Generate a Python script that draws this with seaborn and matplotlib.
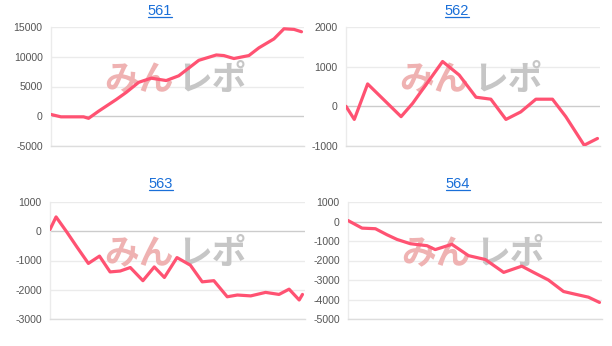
import matplotlib
matplotlib.use("Agg")
import matplotlib.pyplot as plt
import seaborn as sns
import pandas as pd
from matplotlib.lines import Line2D

# ---- data ----
titles = ["561", "562", "563", "564"]

x561 = [0, 4, 13, 15, 19, 26, 30, 35, 40, 46, 51, 55, 59, 66, 69, 73, 79, 83, 89, 93, 97, 100]
y561 = [300, -100, -100, -350, 850, 2800, 4000, 5700, 6400, 6000, 6800, 8100, 9400, 10300,
        10200, 9700, 10200, 11500, 13000, 14700, 14600, 14200]

x562 = [0, 3.3, 8.6, 21.9, 26.5, 38.4, 45, 51.7, 57.6, 63.6, 69.5, 75.5, 82.1, 87.4, 94.7, 100]
y562 = [0, -330, 565, -260, 75, 1130, 790, 230, 180, -330, -140, 180, 180, -260, -980, -810]

x563 = [0, 2.4, 6.6, 10.6, 15.2, 19.6, 23.8, 27.8, 31.8, 36.8, 41.3, 45.3, 50.3, 55.6, 60.3,
        64.9, 70.2, 74.2, 79.5, 85.4, 90.7, 94.7, 98.7, 100]
y563 = [60, 490, -20, -530, -1100, -850, -1390, -1360, -1240, -1690, -1220, -1580, -900, -1160,
        -1730, -1690, -2240, -2180, -2210, -2090, -2160, -1980, -2350, -2160]

x564 = [0, 5.6, 10.9, 15.5, 19.5, 24.8, 31.4, 34.7, 41.3, 47.9, 54.6, 61.9, 69.1, 73.8, 79.7,
        85.7, 89.7, 95.6, 100]
y564 = [50, -340, -370, -680, -920, -1140, -1240, -1440, -1170, -1750, -1950, -2610, -2290,
        -2610, -3000, -3590, -3710, -3880, -4150]

yticks = [
    [-5000, 0, 5000, 10000, 15000],
    [-1000, 0, 1000, 2000],
    [-3000, -2000, -1000, 0, 1000],
    [-5000, -4000, -3000, -2000, -1000, 0, 1000],
]

series = [(x561, y561), (x562, y562), (x563, y563), (x564, y564)]

# ---- layout (pixels) ----
W, H = 612, 346
boxes = [(51, 304, 27, 146), (346, 600, 27, 146), (50, 305, 202, 319), (348, 602, 202, 319)]
title_pos = [(160, 11), (457, 11), (161, 184), (458, 184)]

sns.set_theme(style="white")
plt.rcParams['font.family'] = ['Liberation Sans', 'DejaVu Sans']

fig = plt.figure(figsize=(W / 100, H / 100), dpi=100)
fig.patch.set_facecolor("white")

line_color = "#ff5272"
title_objs = []
for i, ((l, r, t, b), (xs, ys)) in enumerate(zip(boxes, series)):
    ax = fig.add_axes([l / W, 1 - b / H, (r - l) / W, (b - t) / H])
    df = pd.DataFrame({"x": xs, "y": ys})
    sns.lineplot(data=df, x="x", y="y", ax=ax, color=line_color, linewidth=2.3,
                 zorder=5, solid_capstyle="round", solid_joinstyle="round")
    ax.set_xlim(0, 101)
    ax.set_ylim(yticks[i][0], yticks[i][-1])
    ax.set_yticks(yticks[i])
    ax.set_yticklabels([str(v) for v in yticks[i]])
    ax.set_xticks([])
    ax.set_xlabel("")
    ax.set_ylabel("")
    ax.tick_params(axis="y", length=0, pad=6, labelsize=7.6, labelcolor="#555555")
    for v in yticks[i]:
        ax.axhline(v, color="#cccccc" if v == 0 else "#ebebeb", linewidth=1.0, zorder=1)
    for s in ["top", "right"]:
        ax.spines[s].set_visible(False)
    ax.spines["left"].set_color("#ebebeb")
    ax.spines["bottom"].set_color("#dddddd")
    ax.spines["left"].set_linewidth(1.0)
    ax.spines["bottom"].set_linewidth(1.0)
    # watermark
    ax.text(0.485, 0.56, "みん", transform=ax.transAxes, ha="right", va="center",
            fontsize=25, fontweight="bold", color="#efb2b2",
            family=["Noto Sans CJK JP", "DejaVu Sans"], zorder=2)
    ax.text(0.50, 0.56, "レポ", transform=ax.transAxes, ha="left", va="center",
            fontsize=25, fontweight="bold", color="#c6c6c6",
            family=["Noto Sans CJK JP", "DejaVu Sans"], zorder=2)
    tx, ty = title_pos[i]
    t_obj = fig.text(tx / W, 1 - ty / H, titles[i], ha="center", va="center",
                     fontsize=10.5, color="#1a6fd8")
    title_objs.append(t_obj)

fig.canvas.draw()
renderer = fig.canvas.get_renderer()
for t_obj in title_objs:
    bb = t_obj.get_window_extent(renderer)
    yline = bb.y0 + 1.0
    fig.add_artist(Line2D([bb.x0 / W, bb.x1 / W], [yline / H, yline / H],
                          transform=fig.transFigure, color="#1a6fd8", linewidth=0.9))

fig.savefig("out.png", dpi=100, facecolor="white")
